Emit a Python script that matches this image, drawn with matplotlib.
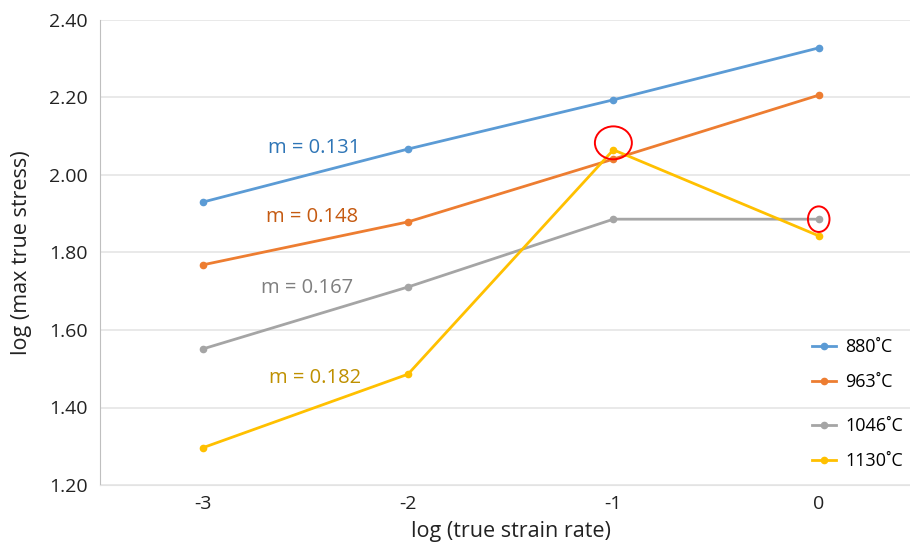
import matplotlib
matplotlib.use("Agg")
import matplotlib.pyplot as plt
from matplotlib.patches import Ellipse

plt.rcParams['font.family'] = ['Open Sans', 'DejaVu Sans']

strain_rate = [-3, -2, -1, 0]
s880 = [1.930, 2.067, 2.194, 2.328]
s963 = [1.768, 1.879, 2.041, 2.206]
s1046 = [1.551, 1.711, 1.886, 1.886]
s1130 = [1.296, 1.486, 2.065, 1.843]
series_labels = ["880˚C", "963˚C", "1046˚C", "1130˚C"]
colors = ["#5B9BD5", "#ED7D31", "#A5A5A5", "#FFC000"]
m_labels = ["m = 0.131", "m = 0.148", "m = 0.167", "m = 0.182"]
m_colors = ["#2E75B6", "#C55A11", "#7F7F7F", "#BF9000"]
m_pos = [(-2.455, 2.070), (-2.469, 1.892), (-2.493, 1.708), (-2.455, 1.476)]
yticks = [1.20, 1.40, 1.60, 1.80, 2.00, 2.20, 2.40]

fig = plt.figure(figsize=(9.10, 5.49), dpi=100)
ax = fig.add_axes([100/910, 64/549, 821.4/910, 465/549])

handles = []
for data, c, lab in zip([s880, s963, s1046, s1130], colors, series_labels):
    h, = ax.plot(strain_rate, data, color=c, lw=2.0, marker='o', ms=4.5, label=lab, zorder=3)
    handles.append(h)

for txt, c, (x, y) in zip(m_labels, m_colors, m_pos):
    ax.text(x, y, txt, color=c, fontsize=14.5, ha='center', va='center')

ax.add_patch(Ellipse((-1, 2.083), 0.18, 0.085, fill=False, ec='#FF0000', lw=1.4, zorder=4))
ax.add_patch(Ellipse((0, 1.886), 0.105, 0.066, fill=False, ec='#FF0000', lw=1.4, zorder=4))

ax.set_xlim(-3.5, 0.5)
ax.set_ylim(1.20, 2.40)
ax.set_xticks(strain_rate)
ax.set_xticklabels([str(v) for v in strain_rate])
ax.set_yticks(yticks)
ax.set_yticklabels([f"{v:.2f}" for v in yticks])
ax.grid(axis='y', color='#E3E3E3', lw=1.1, zorder=0)
ax.set_axisbelow(True)
for s in ['top', 'right']:
    ax.spines[s].set_visible(False)
ax.spines['left'].set_color('#BFBFBF')
ax.spines['bottom'].set_color('#E3E3E3')
ax.tick_params(length=0, labelsize=14, colors='#222222', pad=9)
ax.tick_params(axis='x', pad=7)

ax.set_ylabel("log (max true stress)", fontsize=15.5, color='#222222', labelpad=12)
ax.set_xlabel("log (true strain rate)", fontsize=15.5, color='#222222', labelpad=6)

leg_kw = dict(frameon=False, fontsize=13, loc='upper left', handlelength=1.35,
              handletextpad=0.5, labelspacing=0.95, borderaxespad=0, borderpad=0)
leg1 = ax.legend(handles[:2], series_labels[:2],
                 bbox_to_anchor=((812-100)/821.4, (485-338)/465), **leg_kw)
ax.add_artist(leg1)
leg2 = ax.legend(handles[2:], series_labels[2:],
                 bbox_to_anchor=((812-100)/821.4, (485-417)/465), **leg_kw)

fig.savefig("out.png", dpi=100)
